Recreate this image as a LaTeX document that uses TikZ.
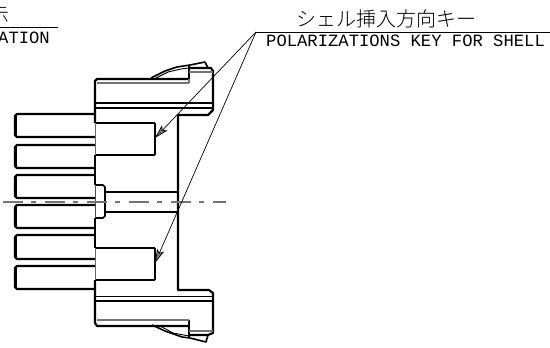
\documentclass[tikz,border=0pt]{standalone}
\usepackage{fontspec}
\setmainfont{Liberation Mono}
\newfontfamily\cjkfont{Noto Sans CJK JP Light}
\usepackage{tikz}
\usetikzlibrary{arrows.meta}

\begin{document}
\begin{tikzpicture}[x=1pt, y=-1pt, heavy/.style = {line width=2.2pt, line join=round},
    medium/.style = {line width=1.6pt, line join=round},
    fine/.style = {line width=0.9pt}, grey/.style = {line width=1.1pt, black!55},
    leader/.style = {line width=0.7pt},
    tip/.style = {-{Stealth[length=14pt, width=7.5pt, inset=3pt, fill=black!55]}},
    enlabel/.style = {inner sep=0pt, anchor=base west, font=\fontsize{17.2}{18}\selectfont},
    jplabel/.style = {inner sep=0pt, anchor=base, font=\fontsize{20}{21}\selectfont\cjkfont}]
    \useasboundingbox (0,0) rectangle (550,348);
    \clip (0,0) rectangle (550,348);

    \coordinate (lead) at (256,32);
    \coordinate (leadend) at (550,32);
    \coordinate (keyup) at (155,138);
    \coordinate (keydown) at (155,263);
    \coordinate (noteleft) at (0,27);
    \coordinate (noteright) at (58,27);
    \coordinate (axisleft) at (3,202);
    \coordinate (axisright) at (226,202);

    % pins
    \foreach \ya/\yb in {114/137, 145/168, 175/198, 205/228, 235/259, 266/289} {
        \draw[heavy] (95,\ya) -- (17,\ya) -- (15,\ya+2) -- (15,\yb-2) -- (17,\yb) -- (95,\yb);
        \draw[heavy] (16,\ya+1) -- (16,\yb-1);
    }

    % housing
    \draw[heavy] (95,123) -- (95,81) -- (97,79) -- (189,79);
    \draw[heavy] (95,155) -- (95,185);
    \draw[heavy] (95,218) -- (95,248);
    \draw[heavy] (95,280) -- (95,323) -- (97,326) -- (189,326);
    \draw[heavy] (189,68) -- (211,68) -- (213,71) -- (213,110) -- (208,115) -- (178,115)
        -- (178,290) -- (209,290) -- (213,293) -- (213,333) -- (208,335) -- (189,335);
    \draw[medium] (189,66) -- (189,79);
    \draw[grey] (189,79) -- (189,83);
    \draw[heavy] (189,320) -- (189,338);
    \draw[heavy] (95,103) -- (213,103);
    \draw[heavy] (95,108) -- (213,108);
    \draw[heavy] (95,301) -- (213,301);
    \draw[fine] (95,296) -- (213,296);
    \draw[grey] (97,83) -- (189,83);
    \draw[grey] (97,320) -- (189,320);
    \draw[grey] (189,72) -- (213,72);
    \draw[grey] (189,331) -- (213,331);

    % key boxes
    \draw[medium] (155,123) -- (95,123) (155,155) -- (95,155) (155,123) -- (155,155);
    \draw[medium] (155,248) -- (95,248) (155,280) -- (95,280) (155,248) -- (155,280);
    \draw[fine, black!60] (95,123) -- (95,155) (95,248) -- (95,280);

    % latches
    \draw[medium] (151,78) -- (165,71) -- (177,67) -- (190,65) -- (205,62) -- (208,68);
    \draw[fine] (156,78) -- (168,72) -- (181,69) -- (189,68);
    \draw[medium] (152,325) -- (165,331) -- (182,337) -- (190,338) -- (206,342) -- (208,335);
    \draw[fine] (160,326) -- (173,333) -- (189,336);

    % centre stud
    \draw[medium] (95,185) -- (103,185) -- (105,187) -- (105,216) -- (103,218) -- (95,218);
    \draw[fine, black!70] (95,185) -- (95,218);
    \draw[medium] (105,192) -- (178,192);
    \draw[medium] (105,212) -- (178,212);

    % axis
    \draw[grey, dash pattern=on 20pt off 8pt on 5pt off 9pt] (axisleft) -- (axisright);

    % labels
    \draw[fine] (noteleft) -- (noteright);
    \draw[fine] (lead) -- (leadend);
    \draw[leader, tip] (lead) -- (keyup);
    \draw[leader, tip] (lead) -- (keydown);

    \node[jplabel] (notejp) at (-1,22) {示};
    \node[enlabel] (noteen) at (-2,43) {ATION};
    \node[jplabel] (keyjp) at (386,27) {シェル挿入方向キー};
    \node[enlabel] (keyen) at (266,46) {POLARIZATIONS KEY FOR SHELL};
\end{tikzpicture}
\end{document}
